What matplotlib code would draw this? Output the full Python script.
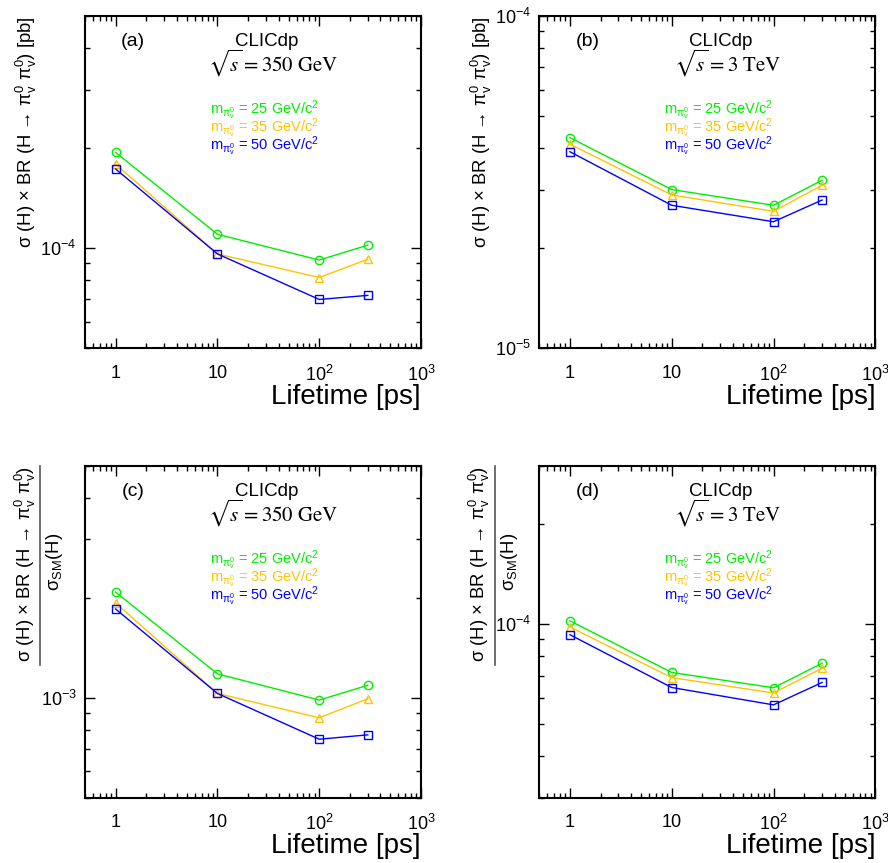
import matplotlib
matplotlib.use("Agg")
import matplotlib.pyplot as plt
import matplotlib.ticker as mticker
import numpy as np

plt.rcParams["font.family"] = ["Liberation Sans", "DejaVu Sans"]
plt.rcParams["mathtext.fontset"] = "custom"
plt.rcParams["mathtext.rm"] = "Liberation Sans"
plt.rcParams["mathtext.it"] = "Liberation Sans:italic"
plt.rcParams["mathtext.sf"] = "Liberation Sans"

# lifetimes [ps]
lifetime = [1, 10, 100, 300]
masses = ["25", "35", "50"]

# (a) sqrt(s) = 350 GeV, sigma x BR [pb]
a_25 = [1.94e-4, 1.10e-4, 9.2e-5, 1.02e-4]
a_35 = [1.79e-4, 9.6e-5, 8.15e-5, 9.25e-5]
a_50 = [1.73e-4, 9.6e-5, 7.0e-5, 7.2e-5]
# (b) sqrt(s) = 3 TeV, sigma x BR [pb]
b_25 = [4.30e-5, 3.00e-5, 2.69e-5, 3.20e-5]
b_35 = [4.11e-5, 2.89e-5, 2.58e-5, 3.09e-5]
b_50 = [3.90e-5, 2.69e-5, 2.40e-5, 2.79e-5]
# (c) sqrt(s) = 350 GeV, normalised to sigma_SM
c_25 = [2.08e-3, 1.18e-3, 9.84e-4, 1.09e-3]
c_35 = [1.93e-3, 1.03e-3, 8.7e-4, 9.93e-4]
c_50 = [1.85e-3, 1.03e-3, 7.5e-4, 7.73e-4]
# (d) sqrt(s) = 3 TeV, normalised to sigma_SM
d_25 = [1.023e-4, 7.15e-5, 6.43e-5, 7.62e-5]
d_35 = [9.8e-5, 6.9e-5, 6.2e-5, 7.36e-5]
d_50 = [9.29e-5, 6.44e-5, 5.71e-5, 6.67e-5]

colors = ["#00ee00", "#ffc400", "#0000ff"]
markers = ["o", "^", "s"]

numer = r"σ (H) × BR (H → $\mathrm{\pi^{0}_{v}\ \pi^{0}_{v}}$)"


def xfmt(v, pos):
    if v == 1:
        return "1"
    if v == 10:
        return "10"
    return r"$10^{%d}$" % round(np.log10(v))


def yfmt(v, pos):
    return r"$10^{%d}$" % round(np.log10(v))


def panel(ax, series, ylim, tag, energy, norm):
    for y, c, m in zip(series, colors, markers):
        ax.plot(lifetime, y, color=c, lw=1.0, marker=m, ms=6, mfc="none",
                mec=c, mew=1.0)
    ax.set_xscale("log")
    ax.set_yscale("log")
    ax.set_xlim(0.5, 1000)
    ax.set_ylim(*ylim)
    ax.xaxis.set_major_locator(mticker.FixedLocator([1, 10, 100, 1000]))
    ax.xaxis.set_major_formatter(mticker.FuncFormatter(xfmt))
    ax.xaxis.set_minor_locator(mticker.LogLocator(base=10, subs=np.arange(2, 10), numticks=20))
    ax.xaxis.set_minor_formatter(mticker.NullFormatter())
    ax.yaxis.set_major_locator(mticker.LogLocator(base=10, numticks=10))
    ax.yaxis.set_major_formatter(mticker.FuncFormatter(yfmt))
    ax.yaxis.set_minor_locator(mticker.LogLocator(base=10, subs=np.arange(2, 10), numticks=20))
    ax.yaxis.set_minor_formatter(mticker.NullFormatter())
    ax.tick_params(which="both", direction="in", top=True, right=True, width=1.0)
    ax.tick_params(which="major", length=7, labelsize=13)
    ax.tick_params(axis="x", which="major", pad=12)
    ax.tick_params(axis="y", which="major", pad=6)
    ax.tick_params(which="minor", length=3.5)
    for s in ax.spines.values():
        s.set_linewidth(1.5)

    ax.text(1.0, -0.147, "Lifetime [ps]", transform=ax.transAxes, ha="right",
            va="center", fontsize=20)
    ax.text(0.143, 0.922, tag, transform=ax.transAxes, ha="center", va="center",
            fontsize=14)
    ax.text(0.54, 0.922, "CLICdp", transform=ax.transAxes, ha="center",
            va="center", fontsize=13.5)
    ax.text(0.56, 0.856, r"$\sqrt{s} = %s$" % energy, transform=ax.transAxes,
            ha="center", va="center", fontsize=15, math_fontfamily="stix")
    for i, (mass, c) in enumerate(zip(masses, colors)):
        ax.text(0.372, 0.717 - 0.055 * i,
                r"m$_{\mathrm{\pi^{0}_{v}}}$ = %s GeV/c$^{2}$" % mass,
                transform=ax.transAxes, ha="left", va="center", fontsize=10.5,
                color=c)

    if not norm:
        ax.text(-0.173, 1.0, numer + " [pb]", transform=ax.transAxes,
                rotation=90, ha="center", va="top", fontsize=13.3)
    else:
        ax.text(-0.178, 1.0, numer, transform=ax.transAxes, rotation=90,
                ha="center", va="top", fontsize=13.3)
        ax.plot([-0.133, -0.133], [1.0, 0.4], transform=ax.transAxes,
                color="#555555", lw=1.2, clip_on=False)
        ax.text(-0.09, 0.71, r"$\mathrm{\sigma_{SM}}$(H)", transform=ax.transAxes,
                rotation=90, ha="center", va="center", fontsize=13.3)


fig = plt.figure(figsize=(8.88, 8.63), dpi=100)
w, h = 0.3784, 0.3847
ax_a = fig.add_axes([0.0957, 0.5968, w, h])
ax_b = fig.add_axes([0.6073, 0.5968, w, h])
ax_c = fig.add_axes([0.0957, 0.0757, w, h])
ax_d = fig.add_axes([0.6073, 0.0757, w, h])

panel(ax_a, [a_25, a_35, a_50], (5e-5, 5e-4), "(a)", r"350\ \mathrm{GeV}", False)
panel(ax_b, [b_25, b_35, b_50], (1e-5, 1e-4), "(b)", r"3\ \mathrm{TeV}", False)
panel(ax_c, [c_25, c_35, c_50], (5e-4, 5e-3), "(c)", r"350\ \mathrm{GeV}", True)
panel(ax_d, [d_25, d_35, d_50], (3e-5, 3e-4), "(d)", r"3\ \mathrm{TeV}", True)

fig.savefig("out.png", dpi=100)
